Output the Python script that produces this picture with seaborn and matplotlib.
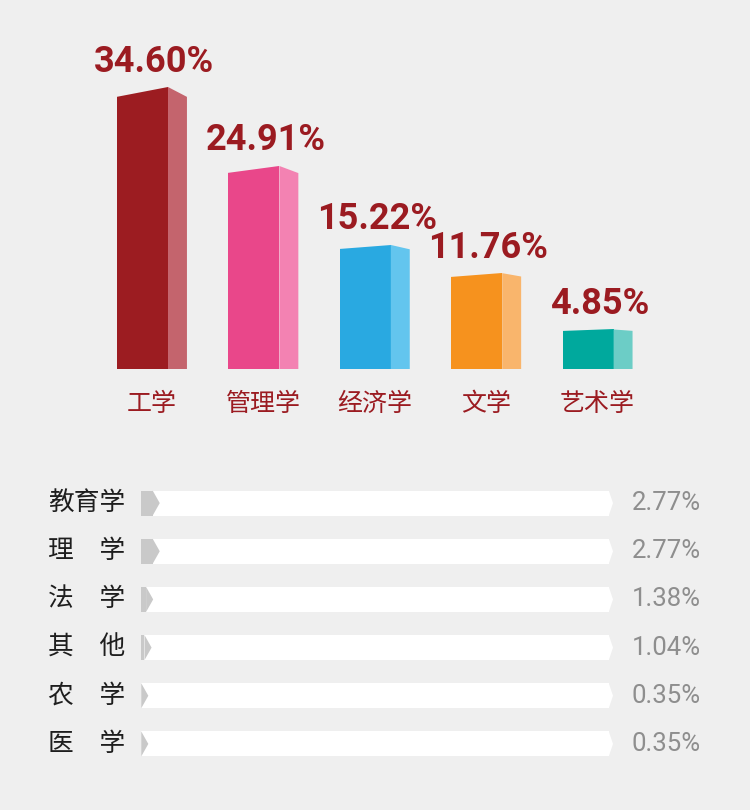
import matplotlib
matplotlib.use('Agg')
import matplotlib.pyplot as plt
import seaborn as sns
import pandas as pd

# upper chart: main disciplines
top_cats = ['工学', '管理学', '经济学', '文学', '艺术学']
top_vals = [34.60, 24.91, 15.22, 11.76, 4.85]
front_colors = ['#9c1c21', '#e9478a', '#29a9e1', '#f6921e', '#00a99d']
side_colors = ['#c4646d', '#f382b2', '#63c5ee', '#f9b56c', '#6ccdc6']

# lower chart: small ones
bottom_cats = ['教育学', '理　学', '法　学', '其　他', '农　学', '医　学']
bottom_vals = [2.77, 2.77, 1.38, 1.04, 0.35, 0.35]

bg = '#efefef'
red = '#9b1b21'

sns.set_theme(style='white')
plt.rcParams['font.family'] = ['Noto Sans CJK SC', 'DejaVu Sans']

fig = plt.figure(figsize=(7.5, 8.1), dpi=100, facecolor=bg)

## barres "3D"
ax1 = fig.add_axes([86.8/750, 441/810, 557/750, 326/810])
ax1.set_facecolor(bg)
df = pd.DataFrame({'cat': top_cats, 'val': top_vals})
front_w = 0.458
side_w = 0.17
sns.barplot(data=df, x='cat', y='val', hue='cat', palette=front_colors,
            width=front_w, saturation=1, edgecolor='none', linewidth=0,
            legend=False, ax=ax1)

patches = [c.patches[0] for c in ax1.containers]
for i, p in enumerate(patches):
    x0 = p.get_x()
    x1 = x0 + p.get_width()
    h = p.get_height()
    d = 0.035 * h
    # toit en pente : on coupe le coin gauche du devant
    ax1.fill([x0 - 0.01, x0 - 0.01, x1], [h - d, h + 0.05, h + 0.05], color=bg, lw=0, zorder=5)
    # face de côté
    ax1.fill([x1, x1, x1 + side_w, x1 + side_w], [0, h, h - d, 0],
             color=side_colors[i], lw=0, zorder=4)
    xc = (x0 + x1 + side_w) / 2
    ax1.text(xc + 0.02, h + 1.9, f'{top_vals[i]:.2f}%', ha='center', va='baseline',
             family='Roboto', fontweight='bold', fontsize=26, color=red, clip_on=False)
    ax1.text(xc, -4.3, top_cats[i], ha='center', va='center',
             fontsize=18, color=red, clip_on=False)

ax1.set_xlim(-0.5, 4.5)
ax1.set_ylim(0, 40)
ax1.axis('off')

## barres de progression
ax2 = fig.add_axes([141/750, 42/810, 472/750, 289/810])
ax2.set_facecolor(bg)
bar_h = 0.52
tip_w = 0.9
gray_tip = 1.5
track_body = [100 - tip_w] * len(bottom_cats)
gray_total = [v + 1.2 for v in bottom_vals]
gray_body = [max(t - gray_tip, 0) for t in gray_total]

sns.barplot(x=track_body, y=bottom_cats, orient='h', color='white', width=bar_h,
            saturation=1, linewidth=0, ax=ax2)
sns.barplot(x=gray_body, y=bottom_cats, orient='h', color='#c9c9c9', width=bar_h,
            saturation=1, linewidth=0, ax=ax2)

for i, v in enumerate(bottom_vals):
    ax2.fill([100 - tip_w, 100, 100 - tip_w], [i - bar_h/2, i, i + bar_h/2],
             color='white', lw=0, zorder=3)
    ax2.fill([gray_body[i], gray_total[i], gray_body[i]], [i - bar_h/2, i, i + bar_h/2],
             color='#c9c9c9', lw=0, zorder=4)
    ax2.text(-19.7, i, bottom_cats[i], ha='left', va='center', fontsize=18.5,
             color='#1e1e1e', clip_on=False)
    ax2.text(104.0, i, f'{v:.2f}%', ha='left', va='center', family='Roboto',
             fontweight='normal', fontsize=18.5, color='#8e8e8e', clip_on=False)

ax2.set_xlim(0, 100)
ax2.set_ylim(5.5, -0.5)
ax2.axis('off')

fig.savefig('out.png', dpi=100, facecolor=bg)
